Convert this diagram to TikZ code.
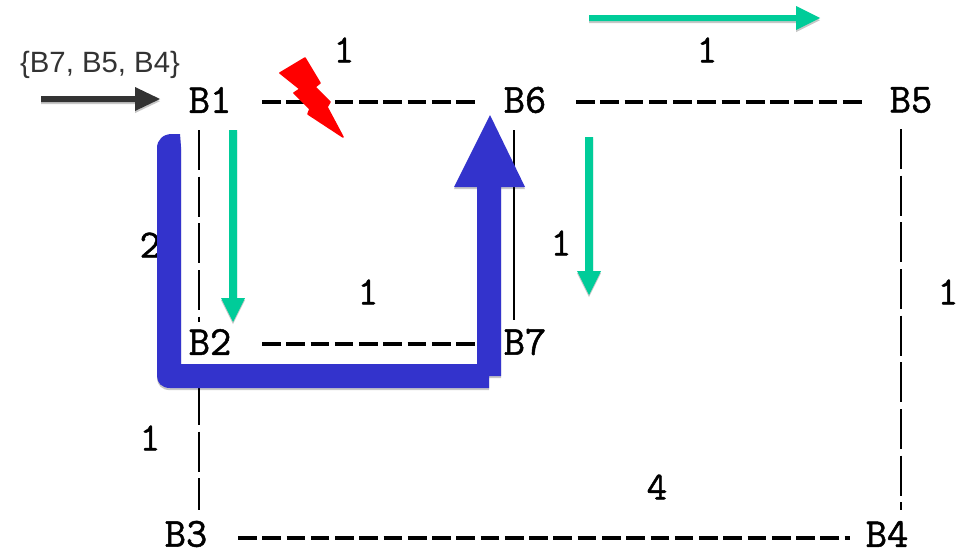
\documentclass[tikz,border=0pt]{standalone}
\usepackage{fontspec}
\setmainfont{Liberation Sans}
\newfontfamily\labelmono[RawFeature={embolden=1.2}]{Latin Modern Mono}
\usetikzlibrary{shadows,calc}
\definecolor{bluepath}{HTML}{3333CC}
\definecolor{greenarrow}{HTML}{00CC99}
\definecolor{darkarrow}{HTML}{333333}
\tikzset{
  x=0.75pt,y=-0.75pt,
  blockname/.style={font=\labelmono\fontsize{31}{31}\selectfont,inner sep=0pt,text=black},
  weight/.style={font=\labelmono\fontsize{30}{30}\selectfont,inner sep=0pt,text=black},
  hdash/.style={draw=black,line width=2.7pt,dash pattern=on 14pt off 4.2pt},
  vdash/.style={draw=black,line width=1.5pt,dash pattern=on 30pt off 5pt},
  softshadow/.style={drop shadow={shadow xshift=0pt,shadow yshift=-1.6pt,opacity=.22,fill=black}},
  greenfill/.style={fill=greenarrow,draw=none,softshadow},
}
\begin{document}
\begin{tikzpicture}
\useasboundingbox (0,0) rectangle (960,550);
\fill[white] (0,0) rectangle (960,550);
% block names
\node[blockname] (B1) at (210,100) {B1};
\node[blockname] (B6) at (525,100) {B6};
\node[blockname] (B5) at (911,100) {B5};
\node[blockname] (B2) at (210,342) {B2};
\node[blockname] (B7) at (525,342) {B7};
\node[blockname] (B3) at (186,534) {B3};
\node[blockname] (B4) at (887,534) {B4};
% connectors
\draw[hdash] ($(B1.center)+(52,2)$) -- ($(B6.center)+(-50,2)$);
\draw[hdash] ($(B6.center)+(51,2)$) -- ($(B5.center)+(-49,2)$);
\draw[hdash] ($(B2.center)+(52,2)$) -- ($(B7.center)+(-50,2)$);
\draw[hdash] ($(B3.center)+(52,4)$) -- ($(B4.center)+(-37,4)$);
\draw[vdash] ($(B1.center)+(-11,30)$) -- ($(B2.center)+(-11,-20)$);
\draw[vdash] ($(B2.center)+(-11,43)$) -- ($(B3.center)+(13,-24)$);
\draw[vdash] ($(B5.center)+(-10,29)$) -- ($(B4.center)+(14,-24)$);
\draw[draw=black,line width=1.5pt] ($(B6.center)+(-11,30)$) -- ($(B7.center)+(-11,-22)$);
% weights
\node[weight] (w1) at (344,50) {1};
\node[weight] (w2) at (707,50) {1};
\node[weight] (w3) at (150,245) {2};
\node[weight] (w4) at (561,243) {1};
\node[weight] (w5) at (368,292) {1};
\node[weight] (w6) at (948,292) {1};
\node[weight] (w7) at (150,438) {1};
\node[weight] (w8) at (657,487) {4};
% work list
\node[font=\fontsize{22}{22}\selectfont,text=darkarrow,inner sep=0pt] (list) at (100,65) {\{B7, B5, B4\}};
\fill[darkarrow,softshadow] (41,96) -- (135,96) -- (135,87) -- (160,99) -- (135,111) -- (135,102) -- (41,102) -- cycle;
% green arrows
\fill[greenfill] (589,15) -- (796,15) -- (796,6) -- (820,18) -- (796,30) -- (796,21) -- (589,21) -- cycle;
\fill[greenfill] (229,130) -- (237,130) -- (237,298) -- (245,298) -- (233,322) -- (221,298) -- (229,298) -- cycle;
\fill[greenfill] (585,137) -- (593,137) -- (593,271) -- (601,271) -- (589,295) -- (577,271) -- (585,271) -- cycle;
% blue path
\fill[bluepath,softshadow] (172,134) -- (180,134) -- (181,147) -- (181,364) -- (477,364) -- (477,187) -- (454,187) -- (490,115) -- (525,187) -- (501,187) -- (501,376) -- (489,376) -- (489,388) -- (170,388) .. controls (162,388) and (157,383) .. (157,376) -- (157,148) .. controls (157,140) and (163,134) .. (172,134) -- cycle;
% bolt
\fill[red,draw=red,line width=1.2pt,line join=round] (280,73) -- (305,58) -- (320,83) -- (315,87) -- (330,102) -- (327,107) -- (343,137) -- (308,114) -- (310,109) -- (294,93) -- (300,89) -- cycle;
\end{tikzpicture}
\end{document}
